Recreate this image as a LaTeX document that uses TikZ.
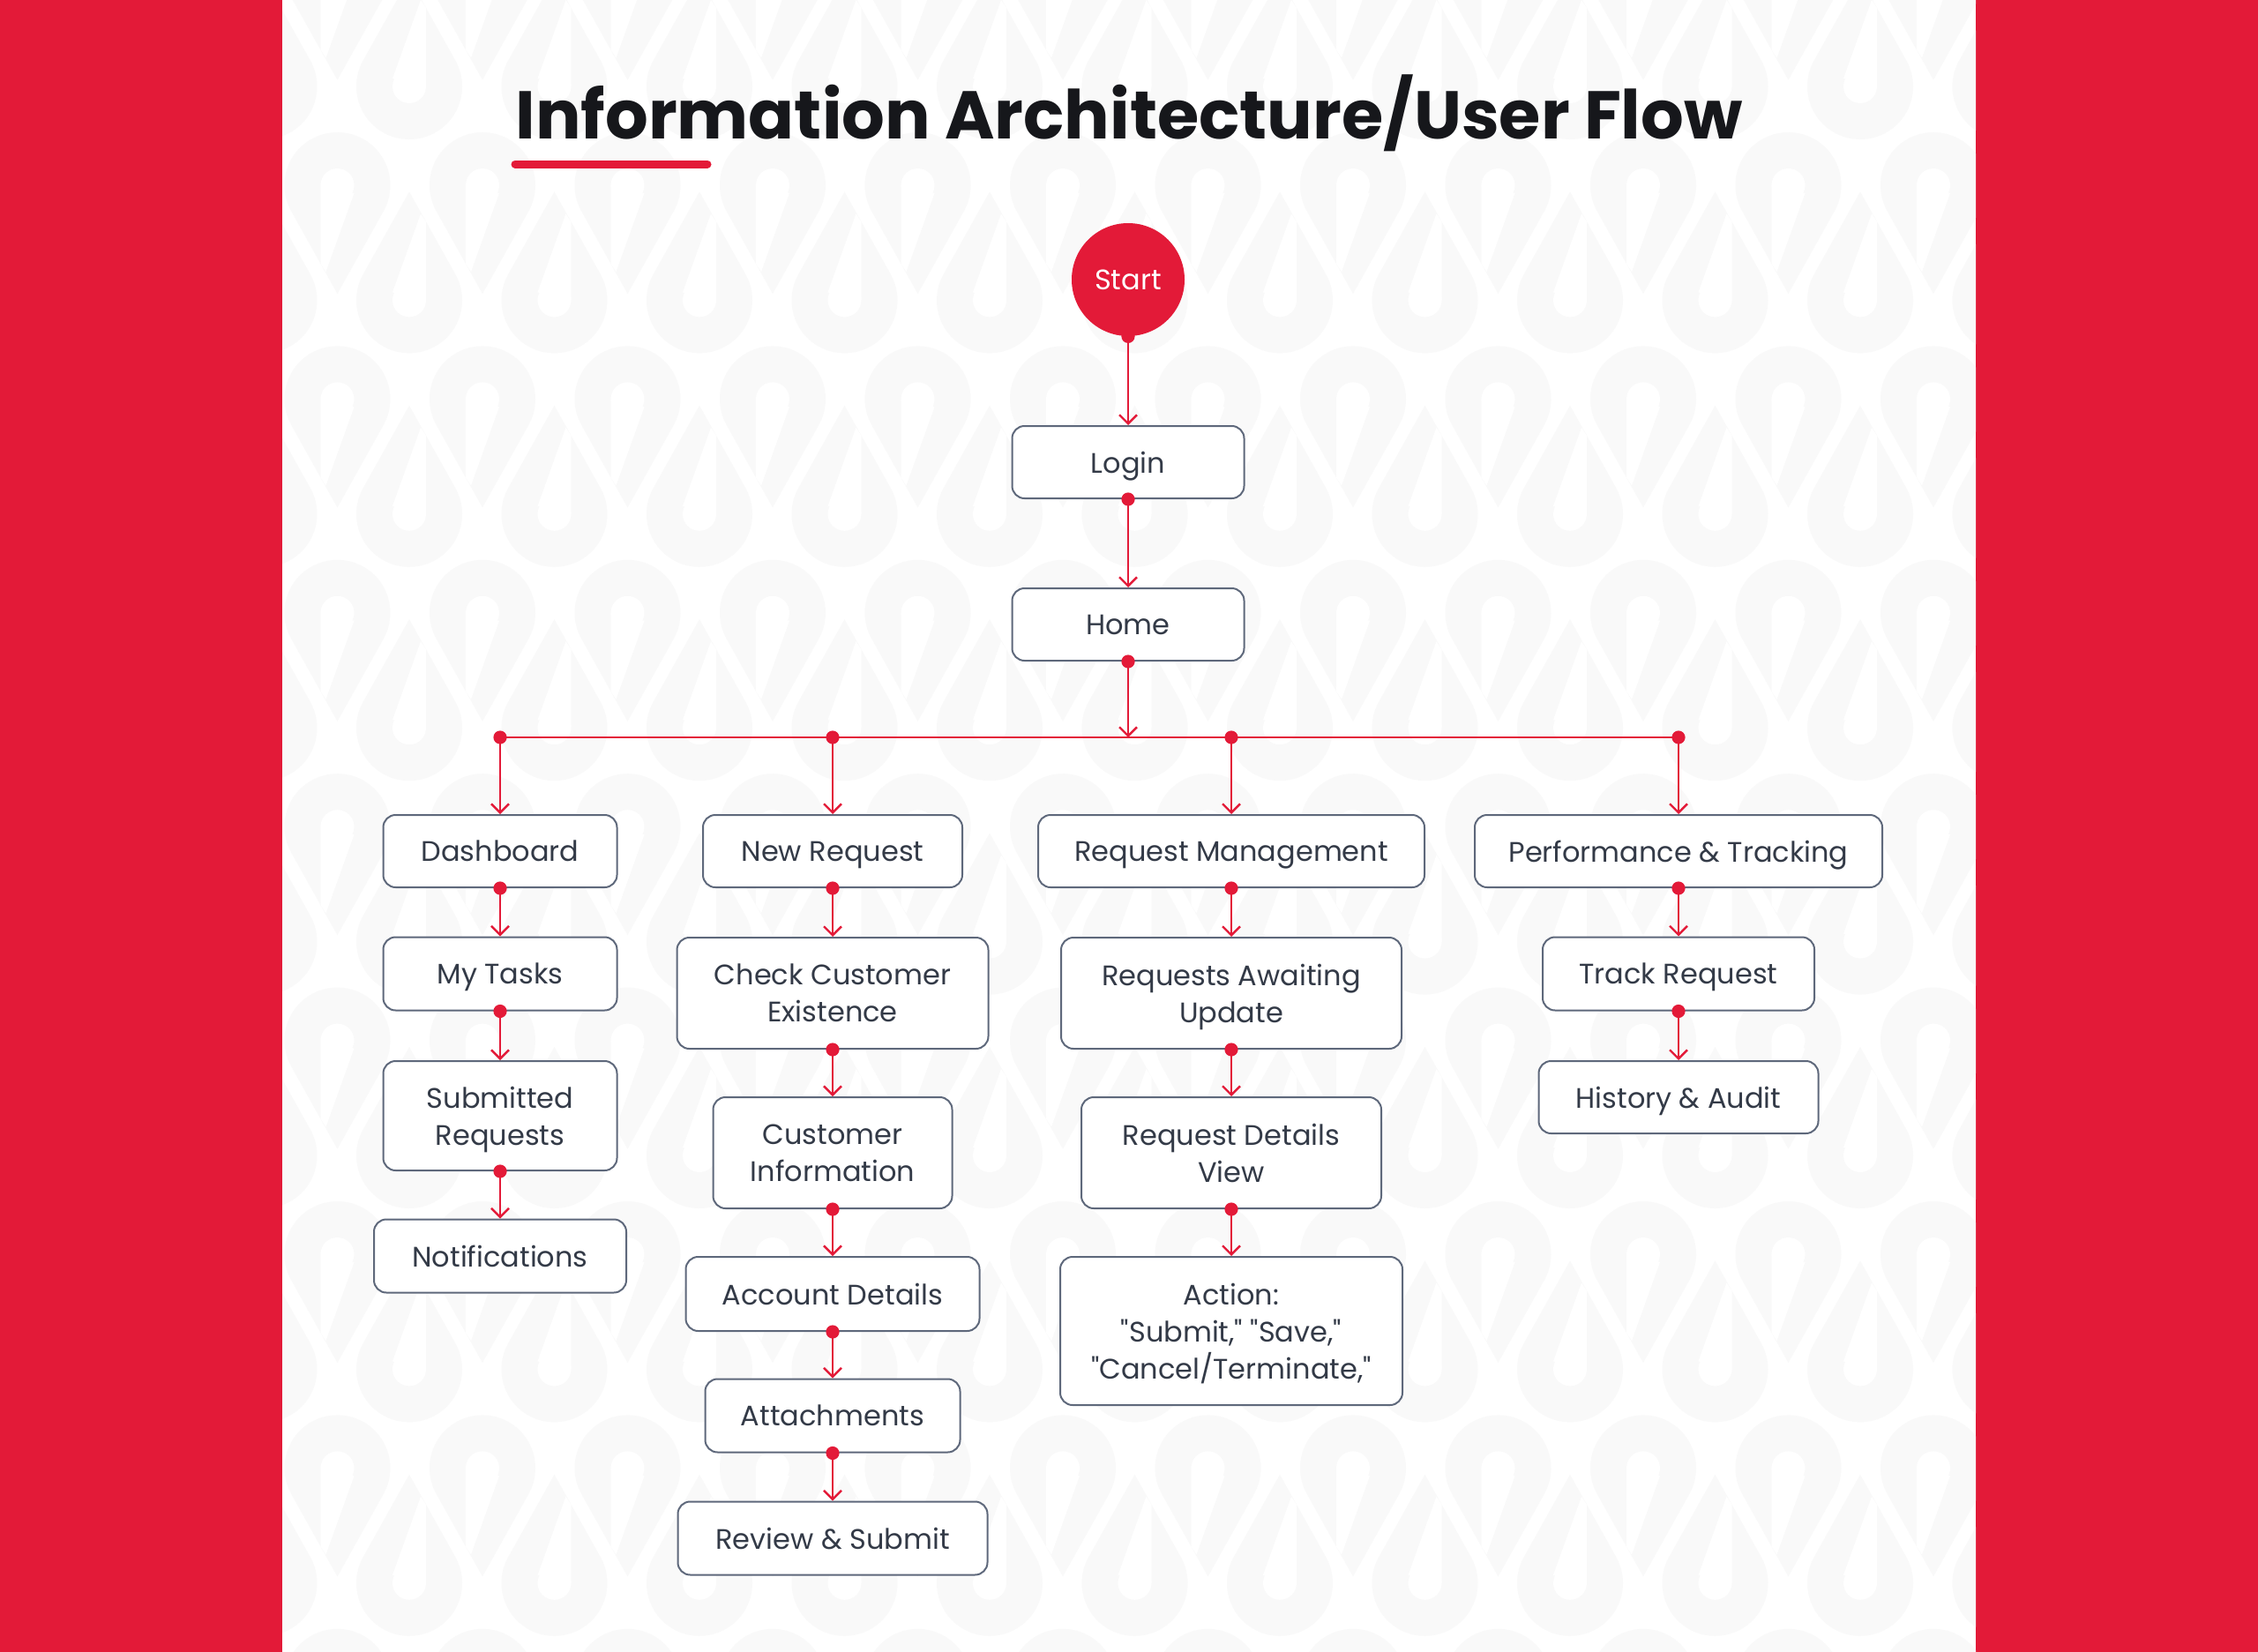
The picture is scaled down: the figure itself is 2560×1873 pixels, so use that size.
\documentclass[tikz,border=0pt]{standalone}
\usepackage{fontspec}
\setmainfont{Poppins}[Ligatures=TeXOff]
\usetikzlibrary{arrows.meta}
\definecolor{brand}{HTML}{E31A38}
\definecolor{boxline}{HTML}{5E687B}
\definecolor{txt}{HTML}{333A47}
\definecolor{ttl}{HTML}{16171B}
\definecolor{panel}{HTML}{FFFFFF}
\definecolor{patgray}{HTML}{F9F9F9}
\tikzset{
  flowbox/.style={draw=boxline, line width=1pt, fill=white, rounded corners=7pt,
    text=txt, font=\fontsize{16}{21}\selectfont, align=center, inner sep=0pt},
  conn/.style={draw=brand, line width=1.2pt, -{Straight Barb[length=5pt,width=10pt,line width=1.2pt]}},
  busline/.style={draw=brand, line width=1.2pt},
  dotmark/.style={fill=brand},
  pinpic/.pic={
    \fill[patgray] (0,123) -- (29.2:60) arc[start angle=29.2, end angle=-209.2, radius=60] -- cycle;
    \fill[panel] (0,0) circle (19);
    \fill[panel] (-19,0) -- (-19,89) -- (-13,98) -- (19,9) -- cycle;
  }
}
% drop the depth of a line so descenders do not shift the text
\newcommand{\nd}[1]{\raisebox{0pt}[\height][0pt]{#1}}
\newcommand{\flowlink}[2]{%
  \draw[conn] (#1.south) -- (#2.north);
  \fill[dotmark] (#1.south) circle (3.8pt);}
\begin{document}
\begin{tikzpicture}[x=0.5pt,y=-0.5pt]
\useasboundingbox (0,0) rectangle (2560,1873);
\fill[brand] (0,0) rectangle (2560,1873);
\fill[panel] (320,0) rectangle (2240,1873);

% faint background pattern
\begin{scope}
\clip (320,0) rectangle (2240,1873);
\foreach \i in {-1,...,11}{
  \foreach \j in {-1,...,8}{
    \pic at ({382.5+\i*164.5},{210+\j*242.4}) {pinpic};
    \pic[rotate=180] at ({464+\i*164.5},{98+\j*242.4}) {pinpic};
  }
}
\end{scope}

% title
\node[anchor=base west, text=ttl, font=\fontsize{38.3}{42}\selectfont\bfseries, inner sep=0pt] (title) at (584,157) {Information Architecture/User Flow};
\draw[brand, line width=4.5pt, line cap=round] (584,186) -- (802,186);

% start
\node[circle, fill=brand, minimum size=64pt, inner sep=0pt, text=white, font=\fontsize{16}{20}\selectfont] (start) at (1279,317) {Start};
\node[flowbox, minimum width=131.5pt, minimum height=41pt] (login) at (1279,524) {\nd{Login}};
\node[flowbox, minimum width=131.5pt, minimum height=41pt] (home) at (1279,708) {\nd{Home}};

% row 1
\node[flowbox, minimum width=132.5pt, minimum height=41pt] (dash) at (567,965) {\nd{Dashboard}};
\node[flowbox, minimum width=147pt, minimum height=41pt] (newreq) at (944,965) {\nd{New Request}};
\node[flowbox, minimum width=219pt, minimum height=41pt] (reqmgmt) at (1396,965) {\nd{Request Management}};
\node[flowbox, minimum width=231pt, minimum height=41pt] (perf) at (1903,965) {\nd{Performance \& Tracking}};

% column 1
\node[flowbox, minimum width=132.5pt, minimum height=41.5pt] (tasks) at (567,1104) {\nd{My Tasks}};
\node[flowbox, minimum width=132.5pt, minimum height=62pt] (submitted) at (567,1265) {Submitted\\\nd{Requests}};
\node[flowbox, minimum width=143pt, minimum height=41.5pt] (notif) at (567,1424) {\nd{Notifications}};

% column 2
\node[flowbox, minimum width=176.5pt, minimum height=63pt] (check) at (944,1126) {Check Customer\\\nd{Existence}};
\node[flowbox, minimum width=135.5pt, minimum height=63pt] (custinfo) at (944,1307) {Customer\\\nd{Information}};
\node[flowbox, minimum width=166.5pt, minimum height=42pt] (account) at (944,1467) {\nd{Account Details}};
\node[flowbox, minimum width=144.5pt, minimum height=41.5pt] (attach) at (944,1605) {\nd{Attachments}};
\node[flowbox, minimum width=175.5pt, minimum height=41.5pt] (review) at (944,1744) {\nd{Review \& Submit}};

% column 3
\node[flowbox, minimum width=193pt, minimum height=63pt] (awaiting) at (1396,1126) {Requests Awaiting\\\nd{Update}};
\node[flowbox, minimum width=170pt, minimum height=63pt] (details) at (1396,1307) {Request Details\\\nd{View}};
\node[flowbox, minimum width=194pt, minimum height=84pt] (action) at (1396,1509) {Action:\\"Submit," "Save,"\\\nd{"Cancel/Terminate,"}};

% column 4
\node[flowbox, minimum width=154pt, minimum height=41.5pt] (track) at (1903,1104) {\nd{Track Request}};
\node[flowbox, minimum width=158.5pt, minimum height=41pt] (history) at (1903,1244) {\nd{History \& Audit}};

% bus
\coordinate (bus) at (1279,836);
\draw[busline] (dash.north |- bus) -- (perf.north |- bus);

% connectors
\flowlink{start}{login}
\flowlink{login}{home}
\draw[conn] (home.south) -- (bus);
\fill[dotmark] (home.south) circle (3.8pt);
\foreach \n in {dash,newreq,reqmgmt,perf}{
  \draw[conn] (\n.north |- bus) -- (\n.north);
  \fill[dotmark] (\n.north |- bus) circle (3.8pt);
}
\flowlink{dash}{tasks}
\flowlink{tasks}{submitted}
\flowlink{submitted}{notif}
\flowlink{newreq}{check}
\flowlink{check}{custinfo}
\flowlink{custinfo}{account}
\flowlink{account}{attach}
\flowlink{attach}{review}
\flowlink{reqmgmt}{awaiting}
\flowlink{awaiting}{details}
\flowlink{details}{action}
\flowlink{perf}{track}
\flowlink{track}{history}
\end{tikzpicture}
\end{document}
